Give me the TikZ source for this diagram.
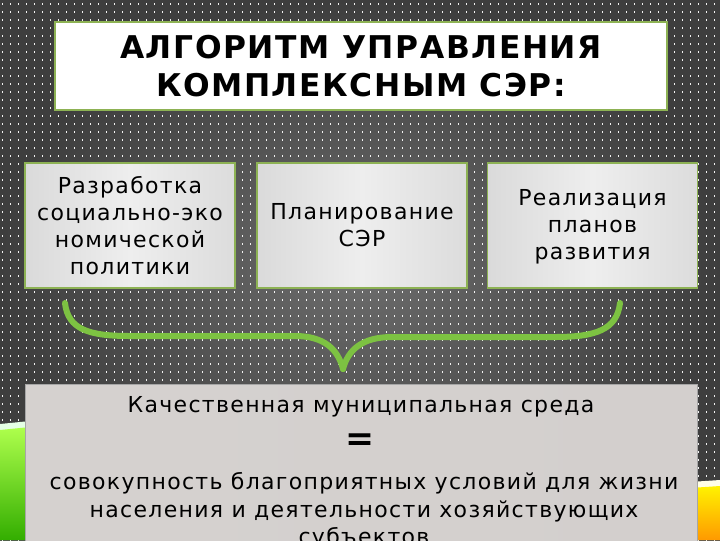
\documentclass[tikz,border=0pt]{standalone}
\usepackage{fontspec}
\setmainfont{DejaVu Sans}
\newfontfamily\titlefont[LetterSpace=5]{DejaVu Sans}
\newfontfamily\bodyfont[LetterSpace=6]{DejaVu Sans}
\usepackage{tikz}
\usetikzlibrary{calc}
\definecolor{framegreen}{HTML}{8DB254}
\definecolor{bracegreen}{HTML}{7DC242}
\definecolor{bgouter}{HTML}{3E3E3E}
\definecolor{bginner}{HTML}{6C6C6C}
\definecolor{boxleft}{HTML}{DADADA}
\definecolor{boxmid}{HTML}{EEEEEE}
\definecolor{boxright}{HTML}{DCDCDC}
\definecolor{basegray}{HTML}{D3CFCD}
\tikzstyle{titlebox} = [rectangle,
minimum width=459pt,
minimum height=66pt,
align=center,
draw=framegreen,
line width=0.8pt,
fill=white,
font=\titlefont\bfseries\fontsize{23.5}{28.5}\selectfont]
\tikzstyle{stepbox} = [rectangle,
minimum width=157.5pt,
minimum height=93.75pt,
align=center,
draw=framegreen,
line width=0.8pt,
left color=boxleft,
right color=boxright,
middle color=boxmid,
font=\bodyfont\fontsize{16.5}{20.3}\selectfont]
\tikzstyle{basebox} = [rectangle,
minimum width=504pt,
minimum height=150pt,
draw=gray!70,
line width=0.6pt,
left color=basegray!95!white,
right color=basegray]
\tikzstyle{basetext} = [align=center,
font=\bodyfont\fontsize{16.5}{20.6}\selectfont]
\tikzstyle{brace} = [line width=4.5pt, bracegreen, line cap=round]

\begin{document}
\begin{tikzpicture}[x=0.75pt, y=-0.75pt]
    \useasboundingbox (0,0) rectangle (720,540);

    % Background
    \shade[outer color=bgouter, inner color=bginner] (0,0) rectangle (720,540);
    \foreach \y in {4,12,...,540}
        \draw[white!90!gray, line width=1.1pt, dash pattern=on 1.1pt off 4.9pt]
            (2,\y) -- (720,\y);

    % Corner accents
    \fill[white!90!green] (0,424) -- (30,421) -- (30,540) -- (0,540) -- cycle;
    \shade[top color=green!45!yellow!70!white, bottom color=green!60!black!80!yellow]
        (0,430) -- (30,427) -- (30,540) -- (0,540) -- cycle;
    \fill[white!90!yellow] (690,482) -- (720,480) -- (720,540) -- (690,540) -- cycle;
    \shade[top color=yellow!90!orange, bottom color=orange!80!yellow]
        (690,488) -- (720,486) -- (720,540) -- (690,540) -- cycle;

    % Title
    \node (title) [titlebox] at (361,66) {АЛГОРИТМ УПРАВЛЕНИЯ\\КОМПЛЕКСНЫМ СЭР:};

    % Steps
    \node (s1) [stepbox] at (130,225.5) {Разработка\\социально-эко\\номической\\политики};
    \node (s2) [stepbox] at (362,225.5) {Планирование\\СЭР};
    \node (s3) [stepbox] at (592.5,225.5) {\strut Реализация\\планов\\развития};

    % Result
    \node (base) [basebox, anchor=north west] at (25,384) {};
    \node (q1) [basetext] at (361,407) {Качественная муниципальная среда};
    \node (eq) [font=\bfseries\fontsize{26}{26}\selectfont] at (360,442) {=};
    \node (q2) [basetext] at (364,511) {совокупность благоприятных условий для жизни\\населения и деятельности хозяйствующих\\субъектов};

    % Brace
    \coordinate (bl) at (65,303);
    \coordinate (br) at (620,303);
    \coordinate (bt) at (343,369);
    \draw [brace] (bl) .. controls (68,330) and (90,336) .. (130,336)
        -- (295,336) .. controls (325,336) and (338,350) .. (bt);
    \draw [brace] (br) .. controls (617,330) and (595,337) .. (555,337)
        -- (392,337) .. controls (362,337) and (348,350) .. (bt);
\end{tikzpicture}
\end{document}
